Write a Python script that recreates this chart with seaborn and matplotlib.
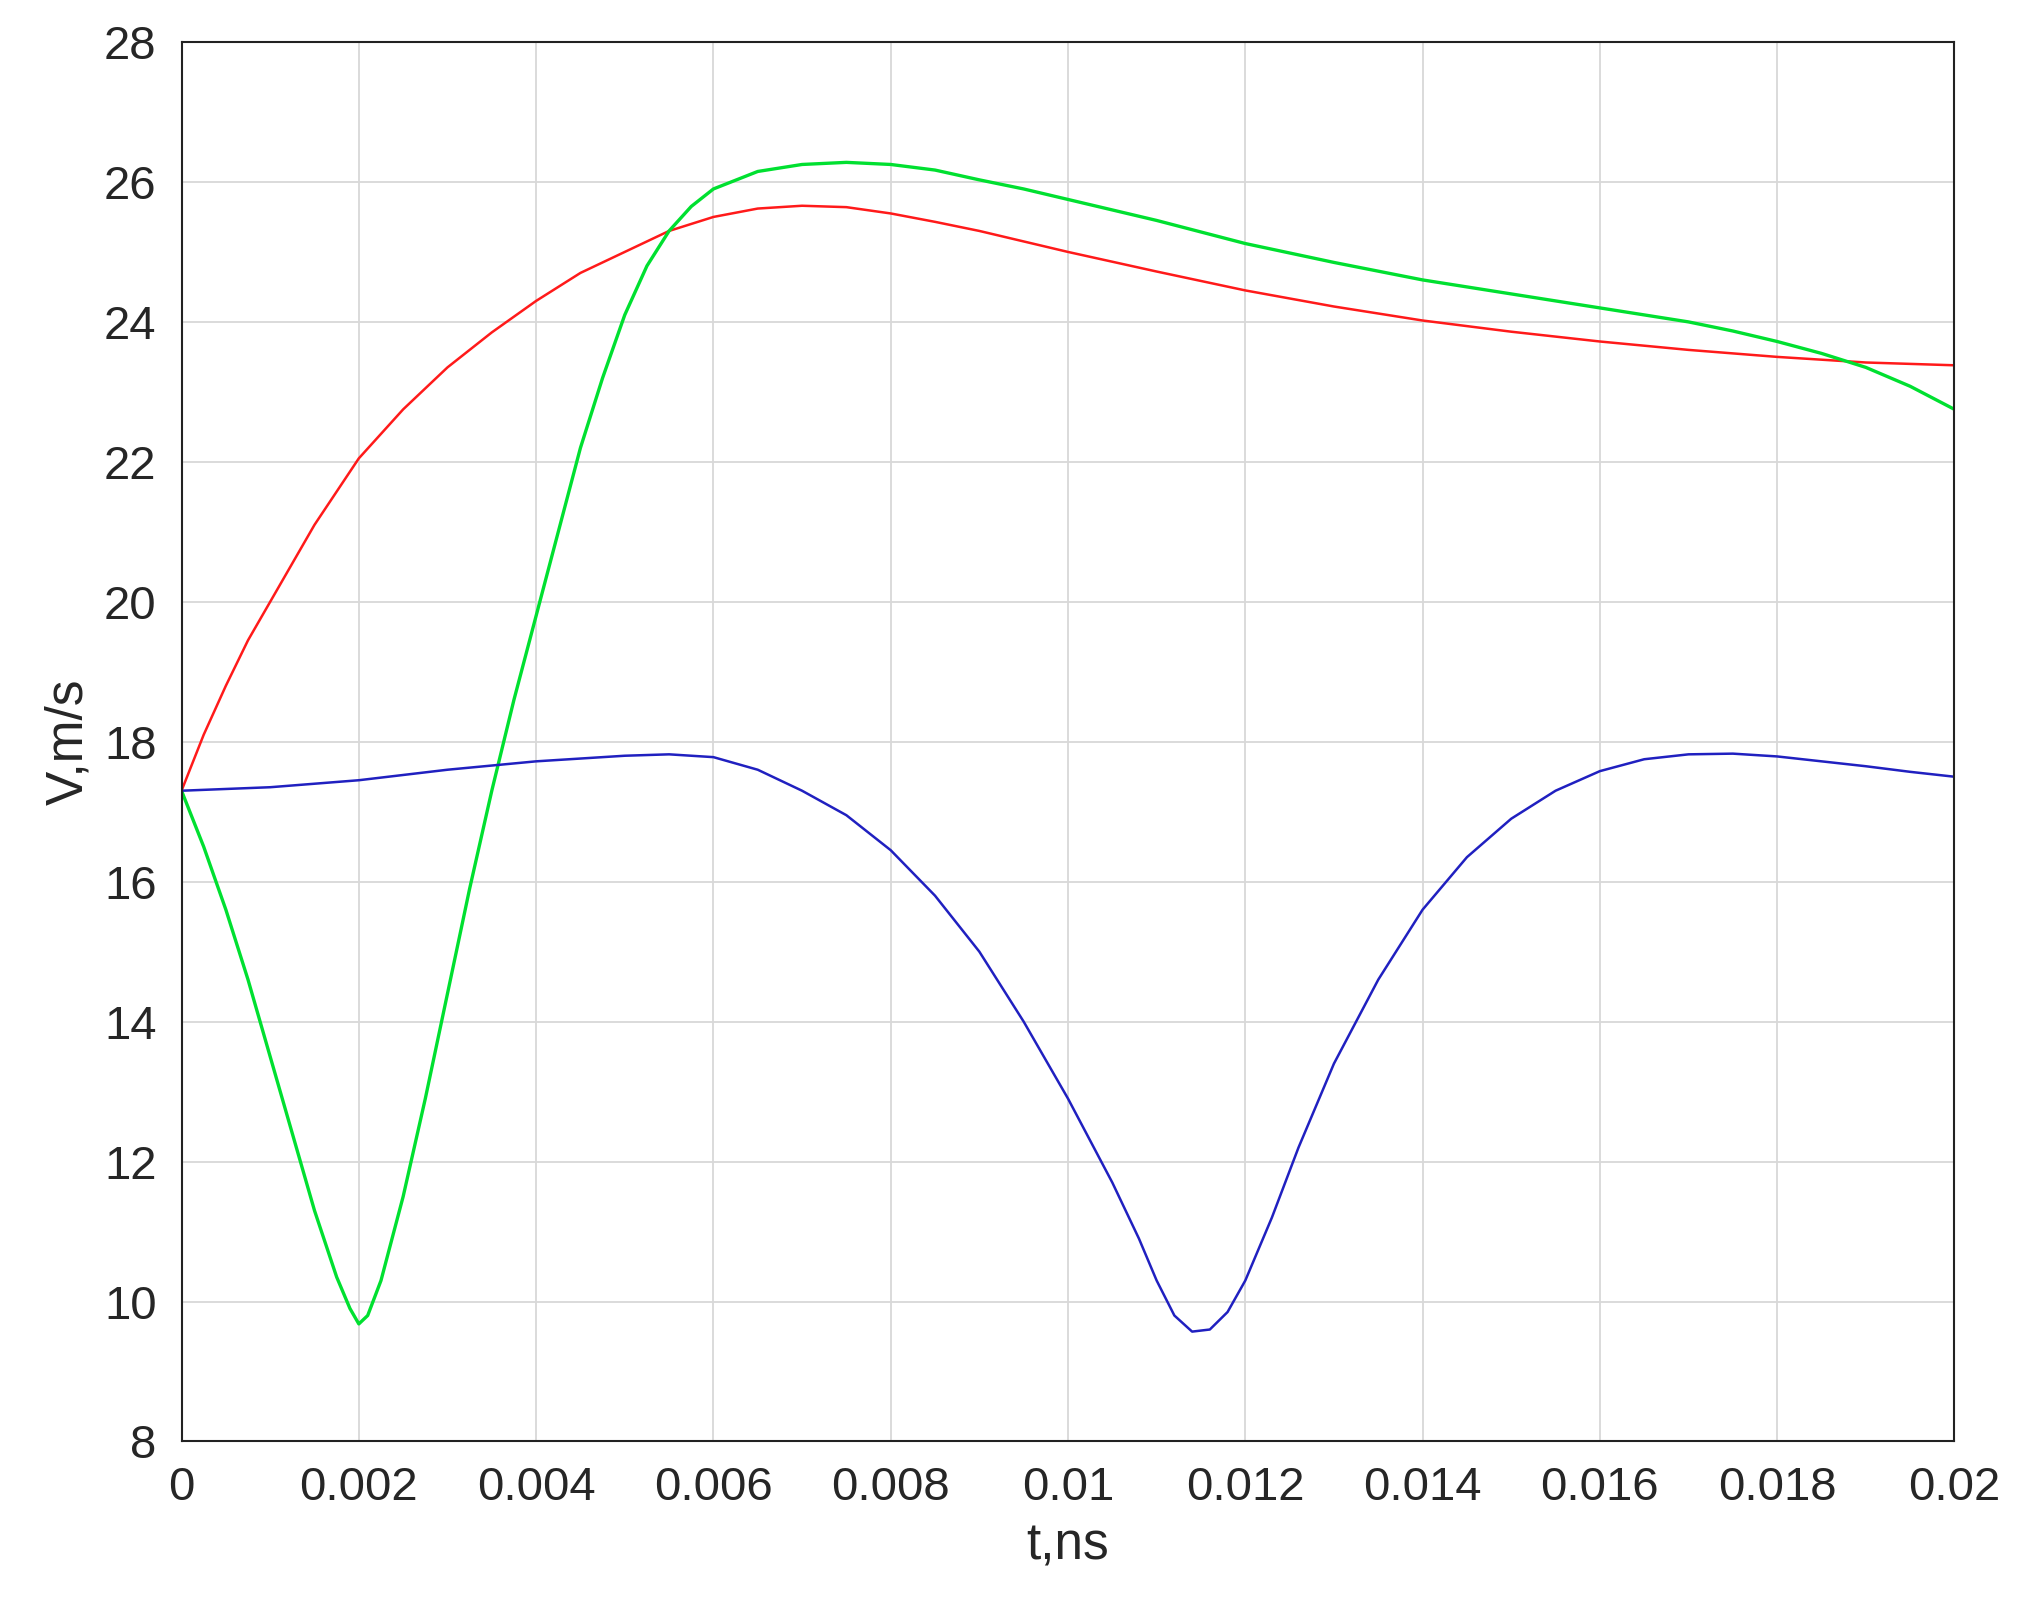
import matplotlib
matplotlib.use('Agg')
import matplotlib.pyplot as plt
import seaborn as sns

# Red curve
t_red = [0, 0.00025, 0.0005, 0.00075, 0.001, 0.0015, 0.002, 0.0025, 0.003, 0.0035, 0.004, 0.0045,
         0.005, 0.0055, 0.006, 0.0065, 0.007, 0.0075, 0.008, 0.0085, 0.009, 0.0095, 0.01,
         0.011, 0.012, 0.013, 0.014, 0.015, 0.016, 0.017, 0.018, 0.019, 0.02]
v_red = [17.3, 18.1, 18.8, 19.45, 20.0, 21.1, 22.05, 22.75, 23.35, 23.85, 24.3, 24.7,
         25.0, 25.3, 25.5, 25.62, 25.66, 25.64, 25.55, 25.43, 25.3, 25.15, 25.0,
         24.72, 24.45, 24.22, 24.02, 23.86, 23.72, 23.6, 23.5, 23.42, 23.38]

# Green curve
t_green = [0, 0.00025, 0.0005, 0.00075, 0.001, 0.00125, 0.0015, 0.00175, 0.0019, 0.002, 0.0021,
           0.00225, 0.0025, 0.00275, 0.003, 0.00325, 0.0035, 0.00375, 0.004, 0.00425, 0.0045,
           0.00475, 0.005, 0.00525, 0.0055, 0.00575, 0.006, 0.0065, 0.007, 0.0075, 0.008,
           0.0085, 0.009, 0.0095, 0.01, 0.011, 0.012, 0.013, 0.014, 0.015, 0.016, 0.017,
           0.0175, 0.018, 0.0185, 0.019, 0.0195, 0.02]
v_green = [17.3, 16.5, 15.6, 14.6, 13.5, 12.4, 11.3, 10.35, 9.9, 9.68, 9.8,
           10.3, 11.5, 12.9, 14.4, 15.9, 17.3, 18.6, 19.8, 21.0, 22.2,
           23.2, 24.1, 24.8, 25.3, 25.65, 25.9, 26.15, 26.25, 26.28, 26.25,
           26.17, 26.03, 25.9, 25.75, 25.45, 25.12, 24.85, 24.6, 24.4, 24.2, 24.0,
           23.87, 23.72, 23.55, 23.35, 23.08, 22.75]

# Blue curve
t_blue = [0, 0.001, 0.002, 0.003, 0.004, 0.005, 0.0055, 0.006, 0.0065, 0.007, 0.0075, 0.008, 0.0085,
          0.009, 0.0095, 0.01, 0.0105, 0.0108, 0.011, 0.0112, 0.0114, 0.0116, 0.0118, 0.012,
          0.0123, 0.0126, 0.013, 0.0135, 0.014, 0.0145, 0.015, 0.0155, 0.016, 0.0165, 0.017,
          0.0175, 0.018, 0.0185, 0.019, 0.0195, 0.02]
v_blue = [17.3, 17.35, 17.45, 17.6, 17.72, 17.8, 17.82, 17.78, 17.6, 17.3, 16.95, 16.45, 15.8,
          15.0, 14.0, 12.9, 11.7, 10.9, 10.3, 9.8, 9.57, 9.6, 9.85, 10.3,
          11.2, 12.2, 13.4, 14.6, 15.6, 16.35, 16.9, 17.3, 17.58, 17.75, 17.82,
          17.83, 17.79, 17.72, 17.65, 17.57, 17.5]

sns.set_style("white")
plt.rcParams['font.family'] = ['Liberation Sans', 'DejaVu Sans']

fig = plt.figure(figsize=(20.17, 16.16), dpi=100)
ax = fig.add_axes([0.09, 0.108, 0.879, 0.866])

sns.lineplot(x=t_red, y=v_red, color='#ff1a1a', linewidth=1.8, ax=ax, sort=False)
sns.lineplot(x=t_green, y=v_green, color='#00e030', linewidth=2.4, ax=ax, sort=False)
sns.lineplot(x=t_blue, y=v_blue, color='#2020c0', linewidth=1.8, ax=ax, sort=False)

ax.set_xlim(0, 0.02)
ax.set_ylim(8, 28)
xt = [0, 0.002, 0.004, 0.006, 0.008, 0.01, 0.012, 0.014, 0.016, 0.018, 0.02]
ax.set_xticks(xt)
ax.set_xticklabels(['0', '0.002', '0.004', '0.006', '0.008', '0.01', '0.012', '0.014', '0.016', '0.018', '0.02'])
ax.set_yticks(range(8, 29, 2))
ax.grid(True, color='#d8d8d8', linewidth=1.3)
ax.tick_params(labelsize=34, direction='out', length=8, color='#222222', pad=10,
               labelcolor='#262626')
for s in ax.spines.values():
    s.set_color('#222222')
    s.set_linewidth(1.5)
ax.set_xlabel('t,ns', fontsize=37, color='#262626', labelpad=8)
ax.set_ylabel('V,m/s', fontsize=37, color='#262626', labelpad=8)

plt.savefig('out.png', dpi=100)
